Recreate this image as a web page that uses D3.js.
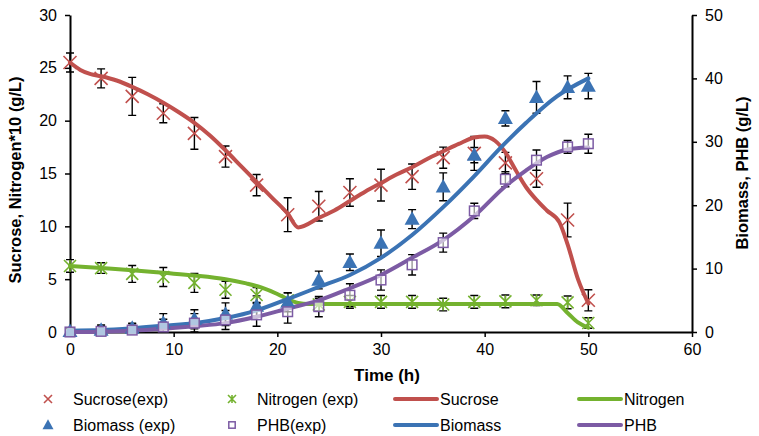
<!DOCTYPE html>
<html>
<head>
<meta charset="utf-8">
<script src="https://cdn.jsdelivr.net/npm/d3@7"></script>
<style>
  body { margin: 0; background: #fff; }
  svg text { font-family: "Liberation Sans", Arial, sans-serif; fill: #000; }
</style>
</head>
<body>
<svg id="chart" width="759" height="436"></svg>
<script>
// experimental sampling times (h)
const expTime = [0, 3, 6, 9, 12, 15, 18, 21, 24, 27, 30, 33, 36, 39, 42, 45, 48, 50];

// left axis series (g/L, nitrogen x10)
const sucroseExp = [25.5, 24.0, 22.3, 20.7, 18.8, 16.6, 13.9, 11.1, 11.9, 13.2, 13.9, 14.7, 16.5, 16.9, 16.0, 14.5, 10.6, 3.0];
const sucroseErr = [0.9, 0.9, 1.8, 0.9, 1.5, 1.0, 1.0, 1.6, 1.4, 1.3, 1.5, 1.2, 1.0, 1.6, 1.0, 0.8, 1.6, 1.0];
const nitrogenExp = [6.25, 6.05, 5.5, 5.2, 4.65, 4.0, 3.5, 3.0, 2.6, 2.85, 2.85, 2.85, 2.6, 2.85, 2.9, 3.0, 2.8, 0.85];
const nitrogenErr = [0.6, 0.5, 0.8, 0.9, 0.9, 0.8, 0.7, 0.7, 0.6, 0.6, 0.6, 0.6, 0.6, 0.6, 0.6, 0.5, 0.6, 0.5];

// right axis series (g/L)
const biomassExp = [0.1, 0.3, 0.6, 1.4, 2.0, 2.8, 4.1, 4.7, 8.2, 11.0, 14.0, 17.8, 22.9, 27.9, 33.7, 37.0, 38.6, 38.8];
const biomassErr = [0.5, 0.8, 0.8, 1.5, 1.5, 1.8, 1.6, 1.5, 1.4, 1.3, 2.1, 1.5, 2.2, 1.2, 1.2, 2.5, 1.8, 2.0];
const phbExp = [0.0, 0.1, 0.3, 0.8, 1.4, 1.9, 2.7, 3.2, 4.0, 5.8, 8.2, 10.6, 14.1, 19.1, 24.1, 27.1, 29.2, 29.7];
const phbErr = [0.5, 0.8, 1.0, 1.2, 1.5, 1.5, 1.8, 1.8, 1.6, 1.8, 1.6, 1.6, 1.5, 1.2, 1.2, 1.6, 1.0, 1.5];

// model curves
const sucroseModelT = [0, 1, 2, 3, 4.5, 6, 7.5, 9, 10.5, 12, 13.5, 15, 16.5, 18, 19.5, 21, 22, 24, 25.5, 27, 28.5, 30, 31.5, 33, 34.5, 36, 37.5, 39, 40, 41, 42, 43, 44, 45, 46, 47.2, 48, 49, 50];
const sucroseModel = [25.5, 24.8, 24.4, 24.2, 23.8, 23.2, 22.5, 21.7, 20.8, 19.8, 18.6, 17.2, 15.7, 14.2, 12.7, 11.2, 9.9, 10.8, 11.5, 12.4, 13.3, 14.1, 14.9, 15.6, 16.4, 17.1, 17.8, 18.4, 18.5, 18.1, 17.0, 15.3, 13.7, 12.5, 11.5, 10.4, 8.3, 5.0, 2.7];
const nitrogenModelT = [0, 3, 6, 9, 12, 15, 17, 18.5, 20, 21, 22, 23, 30, 40, 47, 48, 49, 50];
const nitrogenModel = [6.25, 6.05, 5.85, 5.6, 5.35, 5.0, 4.6, 4.2, 3.6, 3.1, 2.75, 2.65, 2.65, 2.65, 2.65, 1.8, 0.9, 0.4];
const biomassModelT = [0, 3, 6, 9, 12, 15, 18, 21, 24, 27, 30, 33, 36, 39, 41.5, 44, 47, 50];
const biomassModel = [0.2, 0.3, 0.6, 1.0, 1.4, 2.2, 3.4, 5.2, 7.1, 9.0, 11.7, 15.3, 19.7, 24.6, 29.0, 33.0, 37.2, 40.0];
const phbModelT = [0, 3, 6, 9, 12, 15, 18, 21, 24, 27, 30, 33, 36, 39, 42, 44, 46, 48, 50];
const phbModel = [0, 0.05, 0.2, 0.5, 0.9, 1.4, 2.4, 3.7, 5.0, 6.9, 9.0, 11.7, 14.5, 18.3, 23.0, 25.5, 27.6, 28.8, 29.1];

const xTicks = [0, 10, 20, 30, 40, 50, 60];
const yLeftTicks = [0, 5, 10, 15, 20, 25, 30];
const yRightTicks = [0, 10, 20, 30, 40, 50];

const colors = {
    sucrose: '#c0504d',
    nitrogen: '#74b22f',
    biomass: '#3b73b4',
    phb: '#7c5ba4'
};

const svg = d3.select('#chart');

const x = d3.scaleLinear().domain([0, 60]).range([70, 692]);
const yL = d3.scaleLinear().domain([0, 30]).range([332, 15]);
const yR = d3.scaleLinear().domain([0, 50]).range([332, 15]);

// axes
const axisStyle = g => {
    g.selectAll('.domain').attr('stroke', '#000').attr('stroke-width', 2);
    g.selectAll('.tick line').attr('stroke', '#000').attr('stroke-width', 1.5);
    g.selectAll('.tick text').style('font-size', '16px').attr('fill', '#000');
};

svg.append('g')
    .attr('transform', 'translate(0,332)')
    .call(d3.axisBottom(x).tickValues(xTicks).tickSize(5).tickSizeOuter(0).tickPadding(7))
    .call(axisStyle);

svg.append('g')
    .attr('transform', 'translate(70,0)')
    .call(d3.axisLeft(yL).tickValues(yLeftTicks).tickSize(5).tickSizeOuter(0).tickPadding(8))
    .call(axisStyle);

svg.append('g')
    .attr('transform', 'translate(692,0)')
    .call(d3.axisRight(yR).tickValues(yRightTicks).tickSize(5).tickSizeOuter(0).tickPadding(8))
    .call(axisStyle);

// axis titles
svg.append('text')
    .attr('x', 387).attr('y', 381)
    .attr('text-anchor', 'middle')
    .style('font-size', '17px').style('font-weight', 'bold')
    .text('Time (h)');

svg.append('text')
    .attr('transform', 'translate(21,180) rotate(-90)')
    .attr('text-anchor', 'middle')
    .style('font-size', '16.5px').style('font-weight', 'bold')
    .text('Sucrose, Nitrogen*10 (g/L)');

svg.append('text')
    .attr('transform', 'translate(748,173) rotate(-90)')
    .attr('text-anchor', 'middle')
    .style('font-size', '16.5px').style('font-weight', 'bold')
    .text('Biomass, PHB (g/L)');

// marker shapes
const drawMarker = (g, type, color, size) => {
    const h = size / 2;
    if (type === 'x') {
        g.append('path')
            .attr('d', `M${-h},${-h}L${h},${h}M${-h},${h}L${h},${-h}`)
            .attr('stroke', color).attr('stroke-width', 1.6).attr('fill', 'none');
    } else if (type === 'star') {
        g.append('path')
            .attr('d', `M${-h},${-h}L${h},${h}M${-h},${h}L${h},${-h}M0,${-h}L0,${h}`)
            .attr('stroke', color).attr('stroke-width', 1.6).attr('fill', 'none');
    } else if (type === 'triangle') {
        g.append('path')
            .attr('d', `M0,${-h * 1.05}L${h},${h * 0.75}L${-h},${h * 0.75}Z`)
            .attr('fill', color);
    } else if (type === 'square') {
        g.append('rect')
            .attr('x', -h * 0.8).attr('y', -h * 0.8)
            .attr('width', h * 1.6).attr('height', h * 1.6)
            .attr('fill', '#fff').attr('fill-opacity', 0.6)
            .attr('stroke', color).attr('stroke-width', 1.5);
    }
};

// error bars
const drawErrors = (vals, errs, y) => {
    const g = svg.append('g');
    expTime.forEach((t, i) => {
        const cx = x(t);
        const top = y(vals[i] + errs[i]);
        const bot = y(Math.max(0, vals[i] - errs[i]));
        g.append('path')
            .attr('d', `M${cx},${top}L${cx},${bot}M${cx - 4},${top}L${cx + 4},${top}M${cx - 4},${bot}L${cx + 4},${bot}`)
            .attr('stroke', '#000').attr('stroke-width', 1.4).attr('fill', 'none');
    });
};

const drawPoints = (vals, y, type, color, size) => {
    const g = svg.append('g');
    expTime.forEach((t, i) => {
        drawMarker(g.append('g').attr('transform', `translate(${x(t)},${y(vals[i])})`), type, color, size);
    });
};

const drawModel = (ts, vals, y, color) => {
    const line = d3.line()
        .x(d => x(d[0]))
        .y(d => y(d[1]))
        .curve(d3.curveMonotoneX);
    svg.append('path')
        .datum(ts.map((t, i) => [t, vals[i]]))
        .attr('d', line)
        .attr('fill', 'none')
        .attr('stroke', color)
        .attr('stroke-width', 4)
        .attr('stroke-linejoin', 'round')
        .attr('stroke-linecap', 'round');
};

drawErrors(phbExp, phbErr, yR);
drawErrors(biomassExp, biomassErr, yR);
drawErrors(nitrogenExp, nitrogenErr, yL);
drawErrors(sucroseExp, sucroseErr, yL);

drawPoints(sucroseExp, yL, 'x', colors.sucrose, 13);
drawPoints(nitrogenExp, yL, 'star', colors.nitrogen, 12);

drawModel(sucroseModelT, sucroseModel, yL, colors.sucrose);
drawModel(nitrogenModelT, nitrogenModel, yL, colors.nitrogen);
drawModel(biomassModelT, biomassModel, yR, colors.biomass);
drawModel(phbModelT, phbModel, yR, colors.phb);

drawPoints(biomassExp, yR, 'triangle', colors.biomass, 15);
drawPoints(phbExp, yR, 'square', colors.phb, 12);

// legend
const legendItems = [
    { label: 'Sucrose(exp)', kind: 'x', color: colors.sucrose, col: 0, row: 0 },
    { label: 'Nitrogen (exp)', kind: 'star', color: colors.nitrogen, col: 1, row: 0 },
    { label: 'Sucrose', kind: 'line', color: colors.sucrose, col: 2, row: 0 },
    { label: 'Nitrogen', kind: 'line', color: colors.nitrogen, col: 3, row: 0 },
    { label: 'Biomass (exp)', kind: 'triangle', color: colors.biomass, col: 0, row: 1 },
    { label: 'PHB(exp)', kind: 'square', color: colors.phb, col: 1, row: 1 },
    { label: 'Biomass', kind: 'line', color: colors.biomass, col: 2, row: 1 },
    { label: 'PHB', kind: 'line', color: colors.phb, col: 3, row: 1 }
];
const colX = [48, 232, 416, 600];
const rowY = [399, 425];

legendItems.forEach(item => {
    const g = svg.append('g').attr('transform', `translate(${colX[item.col]},${rowY[item.row]})`);
    if (item.kind === 'line') {
        g.append('line')
            .attr('x1', -21).attr('x2', 21)
            .attr('stroke', item.color).attr('stroke-width', 4).attr('stroke-linecap', 'round');
        g.append('text').attr('x', 24).attr('y', 6).style('font-size', '16px').text(item.label);
    } else {
        drawMarker(g, item.kind, item.color, item.kind === 'triangle' ? 11 : 8);
        g.append('text').attr('x', 25).attr('y', 6).style('font-size', '16px').text(item.label);
    }
});
</script>
</body>
</html>
